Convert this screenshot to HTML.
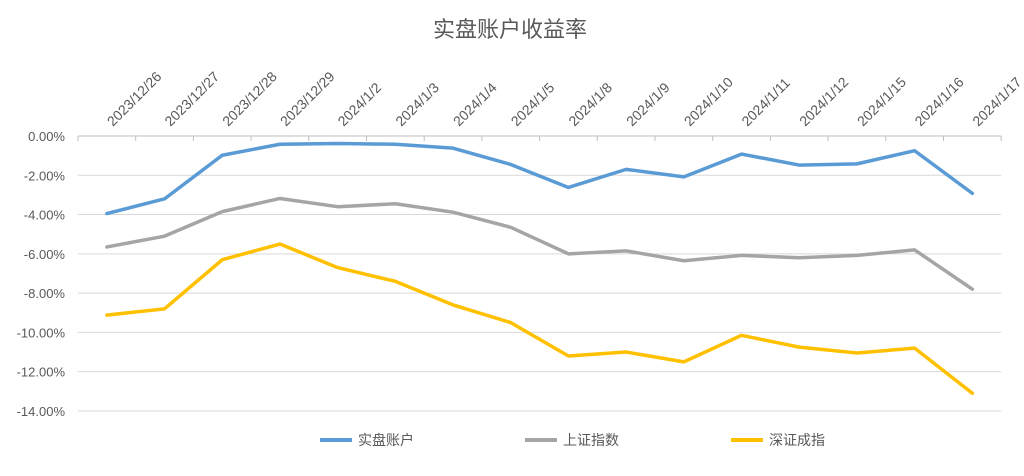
<!DOCTYPE html>
<html><head><meta charset="utf-8"><style>
body{margin:0;background:#fff;}
svg{font-family:"Liberation Sans","Noto Sans CJK SC",sans-serif;}
</style></head><body>
<svg id="c" width="1024" height="471" xmlns="http://www.w3.org/2000/svg">
<text x="510" y="37" text-anchor="middle" font-size="22" fill="#595959">实盘账户收益率</text>
<g id="grid"></g><g id="xl"></g><g id="yl"></g><g id="lines"></g>
<g>
<g><line x1="320" y1="440" x2="352" y2="440" stroke="#5b9bd5" stroke-width="4"/><text x="358" y="445" font-size="14" fill="#595959">实盘账户</text></g>
<g><line x1="525" y1="440" x2="557" y2="440" stroke="#a5a5a5" stroke-width="4"/><text x="563" y="445" font-size="14" fill="#595959">上证指数</text></g>
<g><line x1="731" y1="440" x2="763" y2="440" stroke="#ffc000" stroke-width="4"/><text x="769" y="445" font-size="14" fill="#595959">深证成指</text></g>
</g>
</svg>
<script>
const categories=["2023/12/26","2023/12/27","2023/12/28","2023/12/29","2024/1/2","2024/1/3","2024/1/4","2024/1/5","2024/1/8","2024/1/9","2024/1/10","2024/1/11","2024/1/12","2024/1/15","2024/1/16","2024/1/17"];
const shipan=[-3.95,-3.2,-0.98,-0.42,-0.38,-0.42,-0.62,-1.45,-2.62,-1.7,-2.08,-0.92,-1.48,-1.42,-0.75,-2.92];
const shangzheng=[-5.65,-5.1,-3.85,-3.18,-3.6,-3.45,-3.88,-4.65,-6.0,-5.85,-6.35,-6.08,-6.2,-6.08,-5.8,-7.8];
const shenzheng=[-9.12,-8.8,-6.3,-5.5,-6.7,-7.4,-8.6,-9.5,-11.2,-11.0,-11.5,-10.15,-10.75,-11.05,-10.8,-13.1];
const yTicks=[0,-2,-4,-6,-8,-10,-12,-14];
const NS="http://www.w3.org/2000/svg";
const L=78,W=57.7,Y0=136,YS=19.64;
const x=i=>L+W*(i+0.5), y=v=>Y0-v*YS;
function mk(t,a,p){const e=document.createElementNS(NS,t);for(const k in a)e.setAttribute(k,a[k]);p.appendChild(e);return e;}
const g=document.getElementById('grid'),xl=document.getElementById('xl'),yl=document.getElementById('yl'),ln=document.getElementById('lines');
yTicks.forEach(v=>{
 const l=mk('line',{x1:L,x2:L+W*categories.length,y1:y(v),y2:y(v),stroke:v===0?'#bfbfbf':'#d9d9d9','stroke-width':1},g);
 
 
 const t=mk('text',{x:65,y:y(v)+5,'text-anchor':'end','font-size':13,fill:'#595959'},yl);
 t.textContent=v.toFixed(2)+'%';
 
 
});
for(let i=0;i<=categories.length;i++){
 const tk=mk('line',{x1:L+W*i,x2:L+W*i,y1:Y0,y2:Y0+5,stroke:'#bfbfbf'},g);
 
 
}
categories.forEach((c,i)=>{
 const t=mk('text',{transform:`translate(${x(i)+6},${Y0-9}) rotate(-45)`,'font-size':14,fill:'#595959'},xl);
 t.textContent=c;
 
 
});
[[shipan,'#5b9bd5','line-shipan'],[shangzheng,'#a5a5a5','line-shangzheng'],[shenzheng,'#ffc000','line-shenzheng']].forEach(([d,col,n])=>{
 const p=mk('polyline',{points:d.map((v,i)=>x(i)+','+y(v)).join(' '),fill:'none',stroke:col,'stroke-width':3.5,'stroke-linejoin':'round','stroke-linecap':'round'},ln);
 
 
});
</script>
</body></html>
